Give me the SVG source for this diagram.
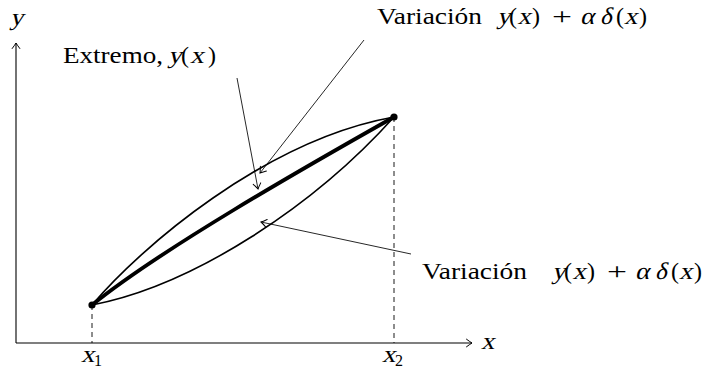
<svg xmlns="http://www.w3.org/2000/svg" width="702" height="372" viewBox="0 0 702 372">
  <style>
    text { font-family: 'Liberation Serif', serif; font-size: 24px; fill: #000; }
    .sub { font-size: 16px; }
    .axis { stroke: #000; stroke-width: 1.1; fill: none; }
    .dash { stroke: #000; stroke-width: 0.9; stroke-dasharray: 5 4; fill: none; }
    .var { stroke: #000; stroke-width: 1.6; fill: none; }
    .ext { stroke: #000; stroke-width: 3.8; fill: none; stroke-linecap: round; }
    .ptr { stroke: #000; stroke-width: 0.85; fill: none; }
  </style>
  <defs>
    <marker id="arr" viewBox="-7 -5 9 10" markerWidth="9" markerHeight="10" refX="0" refY="0" orient="auto" markerUnits="userSpaceOnUse">
      <path d="M-5.5,-3.8 Q-1.6,-0.9 0,0 Q-1.6,0.9 -5.5,3.8" fill="none" stroke="#000" stroke-width="1" stroke-linecap="round"/>
    </marker>
  </defs>

  <g id="axes">
    <line class="axis" x1="16" y1="343" x2="16" y2="43" marker-end="url(#arr)"/>
    <line class="axis" x1="16" y1="343" x2="472" y2="343" marker-end="url(#arr)"/>
    <text transform="translate(10 25) skewX(-13) scale(1.12 1)">y</text>
    <text transform="translate(481 349) skewX(-13) scale(1.12 1)">x</text>
  </g>

  <g id="guides">
    <line class="dash" x1="92" y1="305" x2="92" y2="343"/>
    <line class="dash" x1="394" y1="117" x2="394" y2="343"/>
    <text transform="translate(81 362) skewX(-13) scale(1.12 1)">x</text>
    <text class="sub" x="94" y="366">1</text>
    <text transform="translate(382 362) skewX(-13) scale(1.12 1)">x</text>
    <text class="sub" x="395" y="366">2</text>
  </g>

  <g id="curves">
    <path id="upper" class="var" d="M92,305 C140,248 265,140 394,117"/>
    <path id="lower" class="var" d="M92,305 C195,285 315,205 394,117"/>
    <path id="extremal" class="ext" d="M92,305 C160,250 300,170 394,117"/>
    <circle cx="92" cy="305" r="3.6" fill="#000"/>
    <circle cx="394" cy="117" r="3.6" fill="#000"/>
  </g>

  <g id="connectors">
    <line class="ptr" x1="237" y1="78" x2="258" y2="189" marker-end="url(#arr)"/>
    <line class="ptr" x1="364" y1="40" x2="260" y2="173" marker-end="url(#arr)"/>
    <line class="ptr" x1="411" y1="254" x2="261" y2="222" marker-end="url(#arr)"/>
  </g>

  <g id="label-extremo">
    <text x="63" y="63" textLength="100" lengthAdjust="spacingAndGlyphs">Extremo,</text>
    <text transform="translate(168 63) skewX(-13) scale(1.15 1)">y</text>
    <text x="181" y="63">(</text>
    <text transform="translate(190 63) skewX(-13) scale(1.15 1)">x</text>
    <text x="208" y="63">)</text>
  </g>

  <g id="label-variacion-top">
    <text x="377" y="24" textLength="105" lengthAdjust="spacingAndGlyphs">Variación</text>
    <text transform="translate(497 24) skewX(-13) scale(1.12 1)">y</text>
    <text x="509" y="24">(</text>
    <text transform="translate(517.5 24) skewX(-13) scale(1.12 1)">x</text>
    <text x="532" y="24">)</text>
    <text x="552" y="24" textLength="20" lengthAdjust="spacingAndGlyphs">+</text>
    <text transform="translate(580 24) skewX(-13) scale(1.12 1)">α</text>
    <text transform="translate(600 24) skewX(-13) scale(1.05 1)">δ</text>
    <text x="616" y="24">(</text>
    <text transform="translate(624 24) skewX(-13) scale(1.12 1)">x</text>
    <text x="639" y="24">)</text>
  </g>

  <g id="label-variacion-bottom">
    <text x="422" y="279" textLength="105" lengthAdjust="spacingAndGlyphs">Variación</text>
    <text transform="translate(552 279) skewX(-13) scale(1.12 1)">y</text>
    <text x="564" y="279">(</text>
    <text transform="translate(572.5 279) skewX(-13) scale(1.12 1)">x</text>
    <text x="587" y="279">)</text>
    <text x="607" y="279" textLength="20" lengthAdjust="spacingAndGlyphs">+</text>
    <text transform="translate(635 279) skewX(-13) scale(1.12 1)">α</text>
    <text transform="translate(655 279) skewX(-13) scale(1.05 1)">δ</text>
    <text x="671" y="279">(</text>
    <text transform="translate(679 279) skewX(-13) scale(1.12 1)">x</text>
    <text x="694" y="279">)</text>
  </g>
</svg>
